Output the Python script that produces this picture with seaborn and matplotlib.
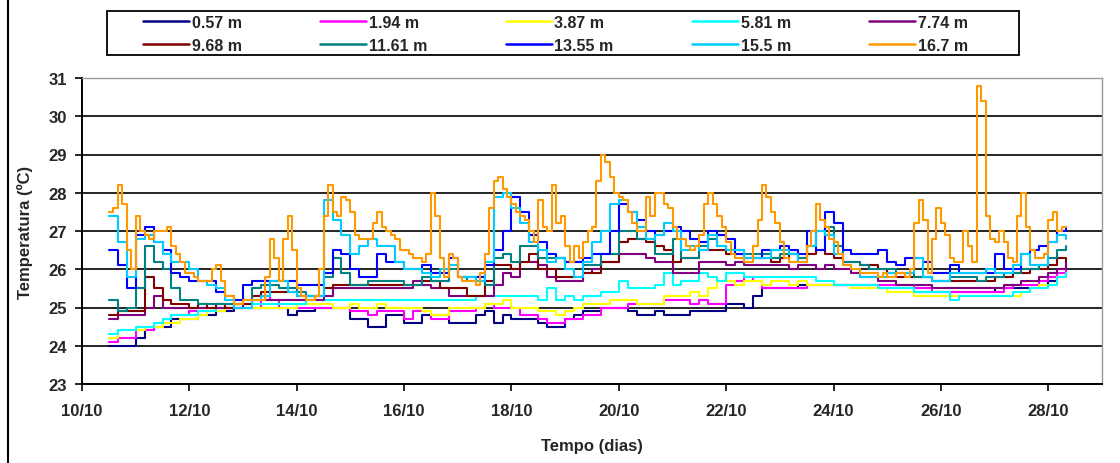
import matplotlib
matplotlib.use("Agg")
import matplotlib.pyplot as plt
from matplotlib.patches import Rectangle
from matplotlib.lines import Line2D
import numpy as np
import pandas as pd
import seaborn as sns

sns.set_theme(style="white")
plt.rcParams["font.family"] = ["Liberation Sans", "DejaVu Sans"]
plt.rcParams["font.weight"] = "bold"

# ---- data -------------------------------------------------------------
depths = ["0.57 m", "1.94 m", "3.87 m", "5.81 m", "7.74 m",
          "9.68 m", "11.61 m", "13.55 m", "15.5 m", "16.7 m"]
colors = ["#000080", "#FF00FF", "#FFFF00", "#00FFFF", "#800080",
          "#800000", "#008080", "#0000FF", "#00CCFF", "#FF9900"]

# sensors logged every 4 h, the 16.7 m sensor every 2 h
start = "2005-10-10 12:00"
tick_labels = ["10/10", "12/10", "14/10", "16/10", "18/10",
               "20/10", "22/10", "24/10", "26/10", "28/10"]

t_0_57 = [24.0,24.0,24.0,24.2,24.4,24.5, 24.5,24.7,24.7,24.7,24.8,24.8,
          24.9,24.9,25.0,25.0,25.0,25.0, 25.0,25.0,24.8,24.9,24.9,25.0,
          25.0,25.0,25.0,24.7,24.7,24.5, 24.5,24.8,24.8,24.6,24.6,24.8,
          24.8,24.8,24.6,24.6,24.6,24.8, 24.9,24.6,24.8,24.7,24.7,24.7,
          24.6,24.5,24.5,24.7,24.8,24.9, 24.9,25.0,25.0,25.0,24.9,24.8,
          24.8,24.9,24.8,24.8,24.8,24.9, 24.9,24.9,24.9,25.1,25.1,25.0,
          25.3,25.5,25.5,25.5,25.5,25.6, 25.6,25.6,25.6,25.6,25.6,25.6,
          25.6,25.6,25.5,25.5,25.5,25.5, 25.4,25.4,25.4,25.4,25.4,25.4,
          25.4,25.4,25.4,25.5,25.5,25.5, 25.5,25.5,25.6,25.7,25.8,25.9]
t_1_94 = [24.1,24.2,24.2,24.4,24.4,24.5, 24.7,24.8,24.8,24.9,24.9,24.9,
          25.0,25.0,25.0,25.0,25.0,25.3, 25.2,25.0,25.0,25.0,25.0,25.0,
          25.0,25.0,25.0,24.9,24.9,24.8, 24.9,24.9,24.9,24.7,24.9,24.9,
          24.7,24.7,24.9,24.9,24.9,25.0, 25.1,25.0,25.0,25.0,24.8,24.8,
          24.7,24.6,24.6,24.7,24.7,24.8, 24.8,25.0,25.0,25.0,25.1,25.1,
          25.1,25.1,25.2,25.2,25.2,25.1, 25.2,25.1,25.1,25.6,25.7,25.8,
          25.7,25.5,25.5,25.5,25.5,25.5, 25.6,25.6,25.6,25.6,25.6,25.6,
          25.6,25.6,25.6,25.6,25.6,25.6, 25.5,25.5,25.4,25.4,25.4,25.4,
          25.4,25.4,25.4,25.4,25.5,25.6, 25.6,25.6,25.7,25.8,25.9,26.0]
t_3_87 = [24.2,24.4,24.4,24.4,24.5,24.5, 24.6,24.6,24.7,24.7,24.8,24.9,
          24.9,25.0,25.0,25.0,25.0,25.0, 25.0,25.0,25.0,25.1,25.1,25.1,
          25.1,25.0,25.0,25.1,25.0,25.0, 25.1,25.0,25.0,25.0,25.0,24.9,
          24.8,24.8,25.0,25.0,25.0,25.0, 25.1,25.1,25.2,25.0,25.0,25.0,
          24.9,24.9,24.8,24.9,25.0,25.1, 25.1,25.1,25.2,25.2,25.2,25.1,
          25.1,25.1,25.3,25.3,25.3,25.4, 25.3,25.5,25.7,25.7,25.6,25.7,
          25.7,25.6,25.7,25.7,25.6,25.7, 25.6,25.6,25.6,25.6,25.6,25.5,
          25.5,25.5,25.5,25.4,25.4,25.4, 25.3,25.3,25.3,25.3,25.3,25.3,
          25.3,25.3,25.3,25.3,25.3,25.3, 25.4,25.5,25.6,25.6,25.8,25.9]
t_5_81 = [24.3,24.4,24.4,24.5,24.5,24.6, 24.7,24.8,24.8,24.8,24.9,24.9,
          25.0,25.0,25.1,25.1,25.1,25.1, 25.1,25.1,25.1,25.1,25.2,25.2,
          25.2,25.2,25.2,25.2,25.2,25.2, 25.2,25.2,25.2,25.2,25.2,25.2,
          25.2,25.2,25.2,25.2,25.2,25.3, 25.3,25.3,25.3,25.3,25.3,25.3,
          25.2,25.5,25.2,25.3,25.2,25.3, 25.3,25.4,25.4,25.7,25.5,25.5,
          25.5,25.6,25.9,25.6,25.7,25.7, 25.9,25.8,25.7,25.9,25.9,25.8,
          25.8,25.8,25.8,25.8,25.8,25.8, 25.8,25.7,25.7,25.6,25.6,25.6,
          25.6,25.6,25.5,25.5,25.5,25.5, 25.4,25.4,25.4,25.4,25.2,25.3,
          25.3,25.3,25.3,25.3,25.3,25.4, 25.4,25.5,25.5,25.6,25.8,25.9]
t_7_74 = [24.7,24.8,24.8,24.8,25.0,25.3, 25.0,25.0,25.0,25.0,25.0,25.0,
          25.0,25.0,25.0,25.1,25.2,25.2, 25.2,25.2,25.2,25.2,25.2,25.2,
          25.3,25.5,25.5,25.5,25.5,25.5, 25.5,25.5,25.5,25.5,25.7,25.6,
          25.5,25.5,25.3,25.3,25.3,25.3, 25.3,25.6,25.9,25.8,26.2,26.2,
          26.1,25.8,25.7,25.7,25.7,25.9, 26.0,26.2,26.2,26.4,26.4,26.4,
          26.3,26.2,26.2,25.9,25.9,25.9, 26.2,26.2,26.2,26.1,26.2,26.1,
          26.1,26.1,26.1,26.1,26.0,26.1, 26.1,26.0,26.1,26.0,26.0,25.9,
          25.8,25.8,25.7,25.7,25.6,25.6, 25.6,25.6,25.5,25.5,25.5,25.5,
          25.5,25.5,25.5,25.5,25.6,25.6, 25.7,25.7,25.8,25.9,26.0,26.2]
t_9_68 = [24.8,24.9,24.9,24.9,25.8,25.5, 25.2,25.1,25.1,25.0,25.1,25.0,
          25.1,25.0,25.1,25.1,25.3,25.4, 25.4,25.4,25.4,25.3,25.3,25.3,
          25.5,25.6,25.6,25.6,25.6,25.6, 25.6,25.6,25.6,25.6,25.6,25.7,
          25.7,25.5,25.5,25.5,25.3,25.3, 25.7,26.1,26.1,26.0,26.2,26.4,
          26.0,26.0,25.8,25.8,25.8,25.9, 25.9,26.2,26.2,26.7,26.8,26.8,
          26.7,26.6,26.5,26.2,26.3,26.3, 26.5,26.5,26.5,26.4,26.4,26.3,
          26.3,26.3,26.2,26.3,26.4,26.3, 26.4,26.5,26.4,26.3,26.2,26.2,
          26.1,26.1,26.0,25.9,25.8,25.8, 25.8,25.8,25.7,25.7,25.7,25.7,
          25.7,25.7,25.7,25.8,25.8,25.9, 25.9,26.0,26.0,26.1,26.3,26.2]
t_11_61 = [25.2,24.9,25.0,25.5,26.6,26.2, 26.0,25.5,25.2,25.2,25.1,25.1,
           25.1,25.1,25.1,25.2,25.5,25.6, 25.6,25.5,25.5,25.4,25.3,25.3,
           25.8,26.3,25.9,25.6,25.6,25.7, 25.7,25.7,25.7,25.6,25.6,25.8,
           25.7,25.7,26.0,25.8,25.7,25.7, 25.6,26.3,26.4,26.2,26.6,26.6,
           26.3,26.3,26.3,26.2,26.2,26.1, 26.1,26.4,26.4,27.0,27.0,26.8,
           26.8,26.4,26.4,26.8,26.3,26.3, 26.6,26.8,26.6,26.5,26.5,26.4,
           26.4,26.4,26.3,26.4,26.4,26.3, 26.6,27.0,27.1,26.6,26.2,26.2,
           26.1,26.0,26.0,26.0,25.9,25.9, 25.8,25.8,25.7,25.7,25.8,25.8,
           25.8,25.7,25.8,25.8,25.9,25.9, 26.0,26.0,26.1,26.3,26.5,26.6]
t_13_55 = [26.5,26.1,25.5,26.9,27.1,26.7, 26.5,25.9,25.8,25.7,25.7,25.7,
           25.4,25.3,25.2,25.6,25.7,25.7, 25.7,25.7,25.7,25.6,25.6,25.6,
           25.9,26.5,26.4,26.0,25.8,25.8, 26.4,26.2,26.2,26.0,26.0,26.1,
           25.9,25.9,26.3,25.8,25.8,25.8, 26.1,26.5,27.0,27.9,27.5,26.9,
           26.7,26.4,26.3,26.2,26.2,26.3, 26.4,26.4,27.0,27.7,27.5,27.3,
           27.0,26.9,27.0,27.1,27.0,26.8, 26.7,27.0,26.9,26.8,26.4,26.3,
           26.3,26.5,26.5,26.6,26.5,26.4, 27.0,26.5,27.5,27.2,26.5,26.4,
           26.4,26.4,26.5,26.2,26.1,26.3, 26.3,26.2,25.9,25.9,26.1,25.9,
           25.9,25.9,25.9,26.4,26.0,26.0, 26.4,26.5,26.6,26.7,27.0,27.1]
t_15_5 = [27.4,26.7,25.8,26.8,26.9,26.7, 26.4,26.2,26.2,26.0,25.7,25.6,
          25.5,25.2,25.0,25.0,25.2,25.3, 25.7,25.7,25.4,25.3,25.3,25.3,
          27.8,27.3,26.9,26.4,26.6,26.8, 26.6,26.6,26.2,26.0,26.0,25.9,
          25.8,26.0,26.1,25.8,25.8,25.7, 26.2,27.9,28.0,27.6,27.2,26.7,
          26.5,26.2,26.3,26.0,25.8,26.2, 26.7,27.0,27.7,27.8,27.5,27.1,
          26.8,26.9,27.2,27.0,26.5,26.6, 26.5,26.9,26.6,26.5,26.5,26.3,
          26.3,26.3,26.5,26.5,26.4,26.2, 26.6,27.0,26.9,26.4,26.1,26.0,
          25.8,25.8,25.8,25.9,25.9,25.9, 26.3,25.8,25.7,25.7,25.9,25.9,
          25.9,25.9,26.0,25.9,25.9,26.1, 26.4,26.1,26.1,26.7,26.9,26.8]
t_16_7 = [27.5,27.6,28.2,27.7,26.5,26.0,27.4,27.0,26.9,26.8,27.0,27.0,
          27.0,27.1,26.6,26.4,26.2,25.9,25.9,25.8,25.7,25.7,25.7,26.0,
          26.1,25.7,25.3,25.3,25.1,25.1,25.2,25.2,25.2,25.2,25.2,25.8,
          26.8,26.3,25.7,26.8,27.4,26.5,25.5,25.3,25.2,25.2,25.3,26.0,
          27.4,28.2,27.5,27.4,27.9,27.8,27.5,26.9,26.8,26.8,26.8,27.2,
          27.5,27.1,27.0,26.9,26.8,26.5,26.5,26.4,26.3,26.3,26.2,26.4,
          28.0,27.4,26.3,25.8,26.4,26.3,25.8,25.7,25.7,25.7,25.6,25.9,
          26.4,27.6,28.3,28.4,28.1,27.9,27.7,27.5,27.4,27.3,27.0,26.7,
          27.8,27.1,27.0,28.2,27.2,27.4,26.6,26.2,26.6,26.3,26.7,27.0,
          27.1,28.3,29.0,28.8,28.4,28.0,27.9,27.8,27.5,27.2,27.0,27.0,
          27.9,27.4,28.0,28.0,27.7,27.6,27.1,26.8,26.8,26.6,26.5,26.6,
          26.9,27.7,28.0,27.7,27.4,27.1,26.7,26.4,26.3,26.3,26.2,26.2,
          26.6,27.3,28.2,27.9,27.5,27.2,26.7,26.3,26.2,26.2,26.2,26.2,
          26.6,27.0,27.7,27.3,27.1,26.8,26.7,26.4,26.1,26.1,26.0,26.0,
          25.9,25.9,25.9,25.9,25.8,25.9,25.8,25.8,25.9,25.9,25.8,26.0,
          27.2,27.8,27.3,25.9,26.8,27.6,27.2,26.9,26.3,26.2,26.2,27.0,
          26.6,26.2,30.8,30.4,27.4,26.8,26.7,27.0,26.7,26.3,26.2,27.4,
          28.0,27.1,26.5,26.3,26.3,26.4,27.3,27.5,27.0,27.1,27.1]

series = [t_0_57, t_1_94, t_3_87, t_5_81, t_7_74,
          t_9_68, t_11_61, t_13_55, t_15_5, t_16_7]
steps = ["4h"] * 9 + ["2h"]

frames = []
for name, vals, step in zip(depths, series, steps):
    times = pd.date_range(start, periods=len(vals), freq=step)
    frames.append(pd.DataFrame({"tempo": times, "temp": vals, "prof": name}))
df = pd.concat(frames, ignore_index=True)

# ---- figure -----------------------------------------------------------
W, H = 1120, 464
fig = plt.figure(figsize=(W / 100, H / 100), dpi=100)
ax = fig.add_axes([82 / W, 1 - 385 / H, (1102 - 82) / W, (385 - 79) / H])

sns.lineplot(data=df, x="tempo", y="temp", hue="prof", hue_order=depths,
             palette=dict(zip(depths, colors)), estimator=None, sort=True,
             drawstyle="steps-post", linewidth=1.5, legend=False, ax=ax)

year = pd.Timestamp(start).year
tick_pos = [pd.Timestamp(year=year, month=int(l.split("/")[1]),
                         day=int(l.split("/")[0])) for l in tick_labels]
ax.set_xlim(tick_pos[0], tick_pos[-1] + pd.Timedelta(days=1))
ax.set_xticks(tick_pos, tick_labels)
ax.set_ylim(23, 31)
ax.set_yticks(range(23, 32))

ax.set_axisbelow(True)
ax.grid(axis="y", color="black", linewidth=1.2)
ax.grid(axis="x", visible=False)
for side in ("left", "bottom"):
    ax.spines[side].set_color("black")
    ax.spines[side].set_linewidth(1.4)
for side in ("top", "right"):
    ax.spines[side].set_color("#9a9a9a")
    ax.spines[side].set_linewidth(1.0)

ax.tick_params(axis="both", which="major", direction="out", length=5,
               width=1.2, color="black", labelsize=12, bottom=True, left=True)
ax.tick_params(axis="x", pad=9)
ax.tick_params(axis="y", pad=6)
ax.set_xlabel("")
ax.set_ylabel("")

fig.text(592 / W, 1 - 447 / H, "Tempo (dias)", ha="center", va="center",
         fontsize=12, fontweight="bold")
fig.text(25 / W, 1 - 232 / H, "Temperatura (ºC)", ha="center", va="center",
         rotation=90, fontsize=12, fontweight="bold")

# legend: two rows of five, inside a plain black box
order = [0, 5, 1, 6, 2, 7, 3, 8, 4, 9]
handles = [Line2D([], [], color=colors[i], linewidth=1.8) for i in order]
labels = [depths[i] for i in order]
fig.legend(handles, labels, ncol=5, mode="expand", loc="center left",
           bbox_to_anchor=(143 / W, 1 - 57 / H, (968 - 143) / W, 44 / H),
           frameon=False, prop={"weight": "bold", "size": 11.5},
           handlelength=2.9, handletextpad=0.15, labelspacing=0.5,
           borderpad=0, borderaxespad=0)
fig.add_artist(Rectangle((107 / W, 1 - 56 / H), 912 / W, 44 / H,
                         transform=fig.transFigure, fill=False,
                         edgecolor="black", linewidth=1.3))

# chart frame edge on the left
fig.add_artist(Line2D([8 / W, 8 / W], [0, 1], transform=fig.transFigure,
                      color="black", linewidth=1.5))

fig.savefig("out.png", dpi=100, facecolor="white")
